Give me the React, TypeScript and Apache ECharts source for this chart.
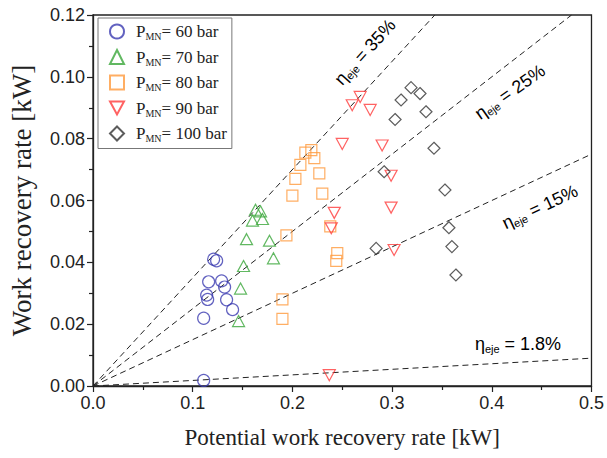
import React, { useEffect, useRef } from "react";
import * as echarts from "echarts";

// measured points, [potential kW, recovered kW]
const p60 = [
  [0.121, 0.041], [0.124, 0.0405], [0.116, 0.0337], [0.129, 0.034], [0.132, 0.032],
  [0.114, 0.0294], [0.115, 0.028], [0.134, 0.0279], [0.14, 0.0247], [0.111, 0.0219],
  [0.111, 0.0018],
];
const p70 = [
  [0.163, 0.057], [0.168, 0.0565], [0.16, 0.0535], [0.17, 0.054], [0.154, 0.0475],
  [0.177, 0.047], [0.181, 0.0413], [0.151, 0.0388], [0.148, 0.0315], [0.146, 0.021],
];
const p80 = [
  [0.213, 0.0755], [0.219, 0.0763], [0.222, 0.0737], [0.208, 0.0715], [0.203, 0.067],
  [0.227, 0.0688], [0.2, 0.0616], [0.23, 0.0622], [0.194, 0.0487], [0.238, 0.0516],
  [0.245, 0.043], [0.244, 0.0405], [0.19, 0.028], [0.19, 0.0217],
];
const p90 = [
  [0.26, 0.0908], [0.268, 0.0935], [0.278, 0.0893], [0.25, 0.0783], [0.29, 0.0778],
  [0.299, 0.068], [0.299, 0.0577], [0.242, 0.056], [0.239, 0.051], [0.302, 0.044],
  [0.237, 0.0035],
];
const p100 = [
  [0.319, 0.0965], [0.328, 0.0946], [0.309, 0.0925], [0.334, 0.0887], [0.303, 0.0862],
  [0.342, 0.0769], [0.292, 0.0693], [0.353, 0.0634], [0.357, 0.0512], [0.36, 0.0451],
  [0.284, 0.0445], [0.364, 0.0359],
];

const pressures = ["60", "70", "80", "90", "100"];
const efficiencies = [0.35, 0.25, 0.15, 0.018];
const effLabels = ["35%", "25%", "15%", "1.8%"];

const xMax = 0.5;
const yMax = 0.12;

export default function App() {
  const chartRef = useRef<HTMLDivElement>(null);

  useEffect(() => {
    if (!chartRef.current) return;
    const chart = echarts.init(chartRef.current, null, { renderer: "svg" });

    const sets = [p60, p70, p80, p90, p100];
    const colors = ["#3b3bb0", "#3aa63a", "#ff9a3c", "#ff3b3b", "#333333"];
    const symbols = [
      "circle",
      "triangle",
      "rect",
      "path://M0,0L12,0L6,11Z", // pointing down
      "diamond",
    ];
    const sizes: any[] = [12, [12, 11], 11, [12, 11], 12];

    const scatter = sets.map((d, i) => ({
      name: pressures[i],
      type: "scatter",
      data: d,
      symbol: symbols[i],
      symbolSize: sizes[i],
      z: 3,
      itemStyle: { color: "transparent", borderColor: colors[i], borderWidth: 1.2 },
    }));

    const lines = efficiencies.map((e) => {
      const xEnd = Math.min(xMax, yMax / e);
      return {
        type: "line",
        silent: true,
        symbol: "none",
        z: 2,
        data: [[0, 0], [xEnd, e * xEnd]],
        lineStyle: { color: "#222", width: 1, type: [6, 4] },
      };
    });

    const labelPos = [
      { x: 365, y: 52, rot: 48 },
      { x: 510, y: 92, rot: 35 },
      { x: 540, y: 207, rot: 25 },
      { x: 518, y: 344, rot: 0 },
    ];
    const rich = {
      e: { fontFamily: "Liberation Sans", fontSize: 18, color: "#222" },
      s: { fontFamily: "Liberation Sans", fontSize: 11, color: "#222", padding: [9, 0, 0, 0] },
      t: { fontFamily: "Liberation Sans", fontSize: 18, color: "#222" },
    };
    const etaTexts = effLabels.map((l, i) => ({
      type: "text",
      x: labelPos[i].x,
      y: labelPos[i].y,
      rotation: (labelPos[i].rot * Math.PI) / 180,
      z: 10,
      style: {
        text: `{e|η}{s|eje}{t| = ${l}}`,
        rich,
        align: "center",
        verticalAlign: "middle",
      },
    }));

    chart.setOption({
      animation: false,
      grid: {
        left: 93, right: 14, top: 15, bottom: 72,
        show: true, borderColor: "#222", borderWidth: 1.3,
      },
      legend: {
        orient: "vertical",
        left: 98,
        top: 18,
        data: pressures,
        itemWidth: 14,
        itemHeight: 14,
        itemGap: 7,
        padding: [5, 5, 5, 11],
        borderColor: "#777",
        borderWidth: 1,
        backgroundColor: "#fff",
        formatter: (name: string) => `{p|P}{s|MN}{t|= ${name} bar}`,
        textStyle: {
          rich: {
            p: { fontFamily: "Liberation Serif", fontSize: 17, color: "#222", padding: [0, 0, 0, 7] },
            s: { fontFamily: "Liberation Serif", fontSize: 10, color: "#222", padding: [10, 0, 0, 0] },
            t: { fontFamily: "Liberation Serif", fontSize: 17, color: "#222" },
          },
        },
      },
      xAxis: {
        type: "value",
        min: 0,
        max: xMax,
        interval: 0.1,
        name: "Potential work recovery rate [kW]",
        nameLocation: "middle",
        nameGap: 40,
        nameTextStyle: { fontFamily: "Liberation Serif", fontSize: 23, color: "#222" },
        axisLine: { lineStyle: { color: "#222", width: 1.3 } },
        axisTick: { length: 6, lineStyle: { color: "#222", width: 1.2 } },
        minorTick: { show: true, splitNumber: 2, length: 4, lineStyle: { color: "#222", width: 1.2 } },
        splitLine: { show: false },
        axisLabel: {
          fontFamily: "Liberation Sans", fontSize: 18, color: "#222", margin: 8,
          formatter: (v: number) => v.toFixed(1),
        },
      },
      yAxis: {
        type: "value",
        min: 0,
        max: yMax,
        interval: 0.02,
        name: "Work recovery rate [kW]",
        nameLocation: "middle",
        nameGap: 58,
        nameTextStyle: { fontFamily: "Liberation Serif", fontSize: 27, color: "#222" },
        axisLine: { lineStyle: { color: "#222", width: 1.3 } },
        axisTick: { length: 6, lineStyle: { color: "#222", width: 1.2 } },
        minorTick: { show: true, splitNumber: 2, length: 4, lineStyle: { color: "#222", width: 1.2 } },
        splitLine: { show: false },
        axisLabel: {
          fontFamily: "Liberation Sans", fontSize: 18, color: "#222", margin: 8,
          formatter: (v: number) => v.toFixed(2),
        },
      },
      graphic: etaTexts,
      series: [...lines, ...scatter],
    });

    return () => chart.dispose();
  }, []);

  return (
    <div
      ref={chartRef}
      style={{ position: "absolute", left: 0, top: 0, width: 607, height: 458, background: "#fff" }}
    />
  );
}
